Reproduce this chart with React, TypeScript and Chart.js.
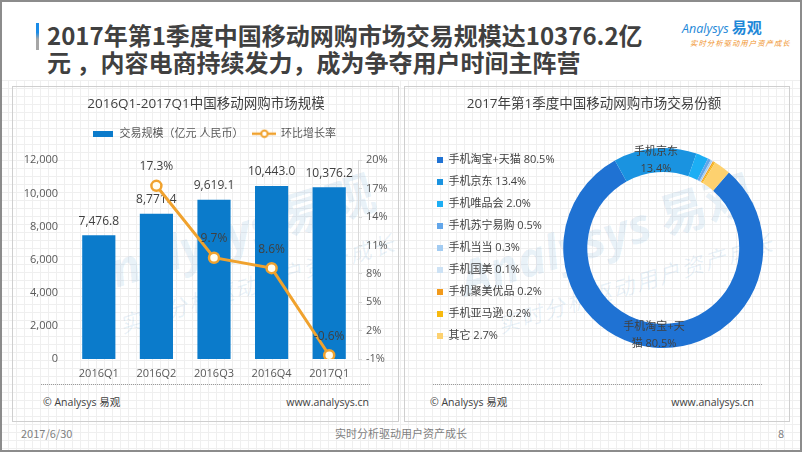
import React, { useEffect, useRef } from 'react';
import { Chart, registerables } from 'chart.js';

Chart.register(...registerables);

const FONT = '"Open Sans", "Noto Sans CJK SC", sans-serif';
const CJK = '"Noto Sans CJK SC", "Open Sans", sans-serif';
Chart.defaults.font.family = FONT;

// ---------- data ----------
const quarters = ['2016Q1', '2016Q2', '2016Q3', '2016Q4', '2017Q1'];
const tradeScale = [7476.8, 8771.4, 9619.1, 10443.0, 10376.2];
const qoqGrowth: (number | null)[] = [null, 17.3, 9.7, 8.6, -0.6];
const scaleTicks = [0, 2000, 4000, 6000, 8000, 10000, 12000];
const growthTicks = [-1, 2, 5, 8, 11, 14, 17, 20];
const barSeriesName = '交易规模（亿元 人民币）';
const lineSeriesName = '环比增长率';
const leftTitle = '2016Q1-2017Q1中国移动网购市场规模';

const platforms = ['手机淘宝+天猫', '手机京东', '手机唯品会', '手机苏宁易购', '手机当当', '手机国美', '手机聚美优品', '手机亚马逊', '其它'];
const shares = [80.5, 13.4, 2.0, 0.5, 0.3, 0.1, 0.2, 0.2, 2.7];
const rightTitle = '2017年第1季度中国移动网购市场交易份额';

// ---------- styles ----------
const BAR = '#0B7BCB';
const LINE = '#F0A22E';
const SHARE_COLORS = ['#1F72D3', '#1A93E0', '#1CAEF4', '#62A6EA', '#A3CCF2', '#CDE2F5', '#F29A1B', '#F7B90E', '#FDD16F'];
const TEXT = '#404040';
const TICK = '#595959';

const fmtScale = (v: number) => v.toLocaleString('en-US', { minimumFractionDigits: 1, maximumFractionDigits: 1 });
const pct = (v: number) => v.toFixed(1) + '%';

const valueLabelPlugin = {
  id: 'valueLabels',
  afterDatasetDraw(chart: any, args: any) {
    const { ctx } = chart;
    const meta = args.meta;
    const ds = chart.data.datasets[args.index];
    ctx.save();
    ctx.font = `12px ${FONT}`;
    ctx.fillStyle = TEXT;
    ctx.textAlign = 'center';
    ctx.textBaseline = 'middle';
    meta.data.forEach((el: any, i: number) => {
      const v = ds.data[i];
      if (v == null) return;
      if (meta.type === 'bar') ctx.fillText(fmtScale(v), el.x, el.y - 14);
      else ctx.fillText(pct(v), el.x, el.y - 19);
    });
    ctx.restore();
  },
};

const ringLabelPlugin = {
  id: 'ringLabels',
  afterDatasetsDraw(chart: any) {
    const meta = chart.getDatasetMeta(0);
    const { ctx } = chart;
    const items = [
      { index: 1, lines: [platforms[1], pct(shares[1])] },
      { index: 0, lines: [platforms[0].slice(0, 6), platforms[0].slice(6) + ' ' + pct(shares[0])] },
    ];
    ctx.save();
    ctx.font = `11px ${FONT}`;
    ctx.fillStyle = TEXT;
    ctx.textAlign = 'center';
    ctx.textBaseline = 'middle';
    items.forEach(({ index, lines }) => {
      const p = meta.data[index].tooltipPosition(true);
      lines.forEach((t, k) => ctx.fillText(t, p.x, p.y + (k - (lines.length - 1) / 2) * 16.5));
    });
    ctx.restore();
  },
};

function makeBarSwatch() {
  const c = document.createElement('canvas');
  c.width = 20;
  c.height = 6;
  const g = c.getContext('2d')!;
  g.fillStyle = BAR;
  g.fillRect(0, 0, 20, 6);
  return c;
}

function makeLineSwatch() {
  const c = document.createElement('canvas');
  c.width = 24;
  c.height = 10;
  const g = c.getContext('2d')!;
  g.strokeStyle = LINE;
  g.lineWidth = 2.5;
  g.beginPath();
  g.moveTo(0, 5);
  g.lineTo(24, 5);
  g.stroke();
  g.beginPath();
  g.arc(12, 5, 3.2, 0, Math.PI * 2);
  g.fillStyle = '#ffffff';
  g.fill();
  g.lineWidth = 2;
  g.stroke();
  return c;
}

function ScaleChart() {
  const ref = useRef<HTMLCanvasElement>(null);
  useEffect(() => {
    const barSwatch = makeBarSwatch();
    const lineSwatch = makeLineSwatch();
    const chart = new Chart(ref.current!, {
      type: 'bar',
      data: {
        labels: quarters,
        datasets: [
          {
            type: 'bar',
            label: barSeriesName,
            data: tradeScale,
            backgroundColor: BAR,
            yAxisID: 'y',
            order: 2,
            categoryPercentage: 0.8,
            barPercentage: 0.72,
          } as any,
          {
            type: 'line',
            label: lineSeriesName,
            data: qoqGrowth,
            yAxisID: 'y1',
            order: 1,
            borderColor: LINE,
            borderWidth: 3,
            pointRadius: 5,
            pointBorderWidth: 2.5,
            pointBackgroundColor: '#fffdf2',
            pointBorderColor: LINE,
            tension: 0,
          } as any,
        ],
      },
      options: {
        animation: false,
        responsive: false,
        events: [],
        layout: { padding: { left: 10, right: 10, top: 0, bottom: 7 } },
        plugins: {
          title: {
            display: true,
            text: leftTitle,
            color: TEXT,
            font: { size: 13.5, weight: 'normal', family: FONT },
            padding: { top: 8.5, bottom: 5.5 },
          },
          legend: {
            display: true,
            position: 'top',
            weight: 1800,
            fullSize: false,
            labels: {
              usePointStyle: true,
              pointStyleWidth: 22,
              padding: 10,
              color: TICK,
              font: { size: 11 },
              generateLabels: () => [
                { text: barSeriesName, pointStyle: barSwatch, fillStyle: BAR, strokeStyle: BAR, lineWidth: 0, fontColor: TICK, hidden: false, datasetIndex: 0 },
                { text: lineSeriesName, pointStyle: lineSwatch, fillStyle: LINE, strokeStyle: LINE, lineWidth: 0, fontColor: TICK, hidden: false, datasetIndex: 1 },
              ],
            },
          } as any,
          subtitle: {
            display: true,
            text: '',
            padding: 0,
            font: { size: 9.2 },
          },
          tooltip: { enabled: false },
        },
        scales: {
          x: {
            grid: { display: false, drawTicks: false },
            border: { display: false },
            ticks: { color: TICK, font: { size: 11 }, padding: 8.4 },
            afterFit: (s: any) => {
              s.height = 22;
            },
          },
          y: {
            position: 'left',
            min: scaleTicks[0],
            max: scaleTicks[scaleTicks.length - 1],
            afterBuildTicks: (s: any) => {
              s.ticks = scaleTicks.map((value) => ({ value }));
            },
            afterFit: (s: any) => {
              s.width = 46;
            },
            grid: { display: false, drawTicks: false },
            border: { display: false },
            ticks: { color: TICK, font: { size: 11 }, padding: 12, callback: (v: any) => Number(v).toLocaleString('en-US') },
          },
          y1: {
            position: 'right',
            min: growthTicks[0],
            max: growthTicks[growthTicks.length - 1],
            afterBuildTicks: (s: any) => {
              s.ticks = growthTicks.map((value) => ({ value }));
            },
            afterFit: (s: any) => {
              s.width = 30;
            },
            grid: { drawOnChartArea: false, drawTicks: true, tickLength: 4, color: '#d9d9d9' },
            border: { display: true, color: '#d9d9d9' },
            ticks: { color: TICK, font: { size: 11 }, padding: 4, callback: (v: any) => v + '%' },
          },
        },
      } as any,
      plugins: [valueLabelPlugin],
    });
    return () => chart.destroy();
  }, []);
  return <canvas ref={ref} width={384} height={300} style={{ position: 'absolute', left: 14, top: 88, width: 384, height: 300 }} />;
}

function ShareChart() {
  const ref = useRef<HTMLCanvasElement>(null);
  useEffect(() => {
    const chart = new Chart(ref.current!, {
      type: 'doughnut',
      data: {
        labels: platforms.map((p, i) => `${p} ${pct(shares[i])}`),
        datasets: [{ data: shares, backgroundColor: SHARE_COLORS, borderWidth: 0 }],
      },
      options: {
        animation: false,
        responsive: false,
        events: [],
        rotation: 41,
        cutout: 75,
        radius: 100,
        layout: { padding: { left: 21, right: 27, top: 0, bottom: 14.8 } },
        plugins: {
          title: {
            display: true,
            text: rightTitle,
            color: TEXT,
            font: { size: 13.5, weight: 'normal', family: FONT },
            padding: { top: 8.5, bottom: 10 },
          },
          legend: {
            display: true,
            position: 'left',
            align: 'center',
            fullSize: false,
            labels: {
              usePointStyle: true,
              pointStyle: 'rect',
              boxWidth: 6,
              boxHeight: 6,
              padding: 11,
              color: TEXT,
              font: { size: 11 },
            },
          },
          tooltip: { enabled: false },
        },
      } as any,
      plugins: [ringLabelPlugin],
    });
    return () => chart.destroy();
  }, []);
  return <canvas ref={ref} width={384} height={300} style={{ position: 'absolute', left: 405, top: 88, width: 384, height: 300 }} />;
}

const abs = (s: React.CSSProperties): React.CSSProperties => ({ position: 'absolute', ...s });

function Watermark({ x }: { x: number }) {
  const wm = 'rgba(30,120,190,0.10)';
  return (
    <>
      <div
        style={abs({
          left: x + 215 - 200,
          top: 232 - 30,
          width: 400,
          height: 60,
          lineHeight: '60px',
          textAlign: 'center',
          transform: 'rotate(-17deg)',
          color: wm,
          whiteSpace: 'nowrap',
          fontSize: 48,
          fontWeight: 700,
        })}
      >
        <span style={{ fontFamily: FONT, fontStyle: 'italic' }}>Analysys</span>
        <span style={{ fontFamily: CJK }}> 易观</span>
      </div>
      <div
        style={abs({
          left: x + 245 - 200,
          top: 282 - 15,
          width: 400,
          height: 30,
          lineHeight: '30px',
          textAlign: 'center',
          transform: 'rotate(-17deg)',
          color: wm,
          whiteSpace: 'nowrap',
          fontSize: 22,
          letterSpacing: 2,
          fontStyle: 'italic',
          fontFamily: CJK,
        })}
      >
        实时分析驱动用户资产成长
      </div>
    </>
  );
}

export default function App() {
  useEffect(() => {
    document.body.style.margin = '0';
  }, []);
  const srcStyle: React.CSSProperties = { fontSize: 10.5, color: TEXT, fontFamily: FONT, lineHeight: '14px', whiteSpace: 'nowrap' };
  const footStyle: React.CSSProperties = { fontSize: 11, color: '#7f7f7f', fontFamily: CJK, lineHeight: '14px', whiteSpace: 'nowrap' };
  return (
    <div style={{ position: 'fixed', left: 0, top: 0, width: 802, height: 452, background: '#ffffff', overflow: 'hidden', fontFamily: CJK }}>
      <div
        style={abs({
          left: 0,
          top: 80,
          width: 802,
          height: 372,
          backgroundImage: 'linear-gradient(#efefef 1px, transparent 1px), linear-gradient(90deg, #efefef 1px, transparent 1px)',
          backgroundSize: '8px 8px',
        })}
      />
      <Watermark x={12} />
      <Watermark x={390} />
      {/* title */}
      <div style={abs({ left: 36, top: 23, width: 3, height: 27, background: 'linear-gradient(#1a8ce8 0%, #1a8ce8 35%, #a6a6a6 60%, #a6a6a6 100%)' })} />
      <div style={abs({ left: 47, top: 21, fontSize: 24, lineHeight: '27px', fontWeight: 700, color: TEXT, whiteSpace: 'pre', fontFamily: CJK })}>
        {'2017年第1季度中国移动网购市场交易规模达10376.2亿\n元 ，内容电商持续发力，成为争夺用户时间主阵营'}
      </div>
      {/* logo */}
      <div style={abs({ left: 682, top: 15, whiteSpace: 'nowrap', color: '#1e88d8', lineHeight: '22px' })}>
        <span style={{ fontFamily: FONT, fontStyle: 'italic', fontSize: 12.5 }}>Analysys</span>
        <span style={{ fontFamily: CJK, fontWeight: 700, fontSize: 15, marginLeft: 3 }}>易观</span>
      </div>
      <div style={abs({ left: 690, top: 38, fontSize: 7.4, letterSpacing: 1, color: '#f0932b', fontStyle: 'italic', whiteSpace: 'nowrap', fontFamily: CJK, lineHeight: '10px' })}>实时分析驱动用户资产成长</div>
      {/* panels */}
      <div style={abs({ left: 12, top: 86, width: 387, height: 336, border: '1px solid #cfcfcf', boxSizing: 'border-box' })} />
      <div style={abs({ left: 404, top: 86, width: 386, height: 336, border: '1px solid #cfcfcf', boxSizing: 'border-box' })} />
      <ScaleChart />
      <ShareChart />
      <div style={abs({ left: 41, top: 384, width: 329, borderTop: '1px dotted #9a9a9a' })} />
      <div style={abs({ left: 433, top: 384, width: 329, borderTop: '1px dotted #9a9a9a' })} />
      <div style={abs({ left: 43, top: 395, ...srcStyle })}>© Analysys 易观</div>
      <div style={abs({ right: 802 - 369, top: 395, ...srcStyle })}>www.analysys.cn</div>
      <div style={abs({ left: 430, top: 395, ...srcStyle })}>© Analysys 易观</div>
      <div style={abs({ right: 802 - 754, top: 395, ...srcStyle })}>www.analysys.cn</div>
      {/* footer */}
      <div style={abs({ left: 21, top: 426, ...footStyle })}>2017/6/30</div>
      <div style={abs({ left: 0, width: 802, textAlign: 'center', top: 426, ...footStyle })}>实时分析驱动用户资产成长</div>
      <div style={abs({ left: 778, top: 426, ...footStyle })}>8</div>
      <div style={abs({ left: 0, top: 0, width: 802, height: 452, border: '2px solid #8c8c8c', boxSizing: 'border-box', pointerEvents: 'none' })} />
    </div>
  );
}
